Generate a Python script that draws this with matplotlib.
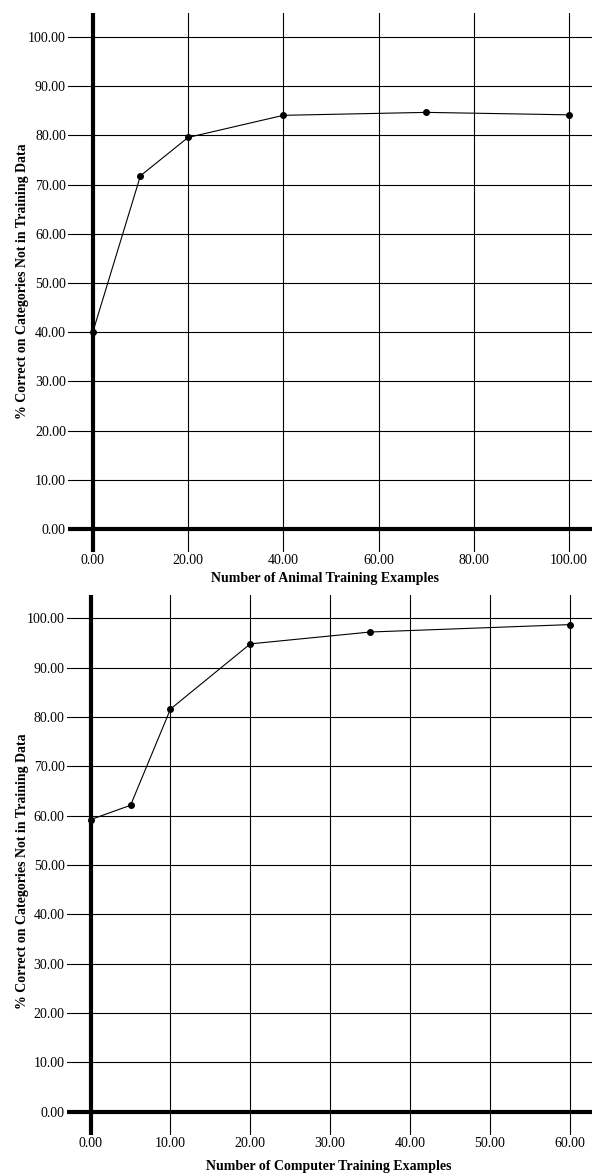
#!/usr/bin/env python3
import matplotlib as mpl
mpl.use("Agg")
import matplotlib.pyplot as plt

# Top panel: animal training examples
animal_x = [0, 10, 20, 40, 70, 100]
animal_y = [40.0, 71.8, 79.6, 84.1, 84.7, 84.2]
animal_xticks = [0, 20, 40, 60, 80, 100]

# Bottom panel: computer training examples
computer_x = [0, 5, 10, 20, 35, 60]
computer_y = [59.2, 62.1, 81.6, 94.8, 97.2, 98.7]
computer_xticks = [0, 10, 20, 30, 40, 50, 60]

yticks = [0, 10, 20, 30, 40, 50, 60, 70, 80, 90, 100]
ylabel_text = "% Correct on Categories Not in Training Data"

W, H = 592, 1174
FS = 10

mpl.rcParams.update({
    "font.family": ["Liberation Serif", "DejaVu Serif"],
    "font.size": FS,
    "text.color": "black",
})


def px_axes(fig, left, top, right, bottom):
    return fig.add_axes([left / W, 1 - bottom / H, (right - left) / W, (bottom - top) / H])


def draw_panel(ax, xs, ys, xticks, xlim, ylim):
    ax.set_xlim(*xlim)
    ax.set_ylim(*ylim)
    for s in ax.spines.values():
        s.set_visible(False)
    for t in xticks:
        ax.axvline(t, color="black", lw=0.8, zorder=1)
    for t in yticks:
        ax.axhline(t, color="black", lw=0.8, zorder=1)
    ax.axvline(0, color="black", lw=3.0, zorder=2)
    ax.axhline(0, color="black", lw=3.0, zorder=2)
    ax.plot(xs, ys, color="black", lw=0.8, marker="o", ms=4, zorder=3)
    ax.set_xticks(xticks)
    ax.set_xticklabels([f"{t:.2f}" for t in xticks])
    ax.set_yticks(yticks)
    ax.set_yticklabels([f"{t:.2f}" for t in yticks])
    ax.tick_params(length=0, pad=1.5, labelsize=FS)


fig = plt.figure(figsize=(W / 100, H / 100), dpi=100, facecolor="white")

ax1 = px_axes(fig, 68, 13, 592, 551.7)
draw_panel(ax1, animal_x, animal_y, animal_xticks, (-5.2, 104.8), (-4.6, 104.9))
fig.text(325 / W, 1 - 578 / H, "Number of Animal Training Examples",
         ha="center", va="center", fontweight="bold", fontsize=FS)
fig.text(23 / W, 1 - 281 / H, ylabel_text, rotation=90,
         ha="center", va="center", fontweight="bold", fontsize=FS)

ax2 = px_axes(fig, 66.7, 595, 592, 1135)
draw_panel(ax2, computer_x, computer_y, computer_xticks, (-3.0, 62.8), (-4.7, 104.7))
fig.text(329 / W, 1 - 1166.5 / H, "Number of Computer Training Examples",
         ha="center", va="center", fontweight="bold", fontsize=FS)
fig.text(23 / W, 1 - 871 / H, ylabel_text, rotation=90,
         ha="center", va="center", fontweight="bold", fontsize=FS)

fig.savefig("out.png", dpi=100, facecolor="white")
